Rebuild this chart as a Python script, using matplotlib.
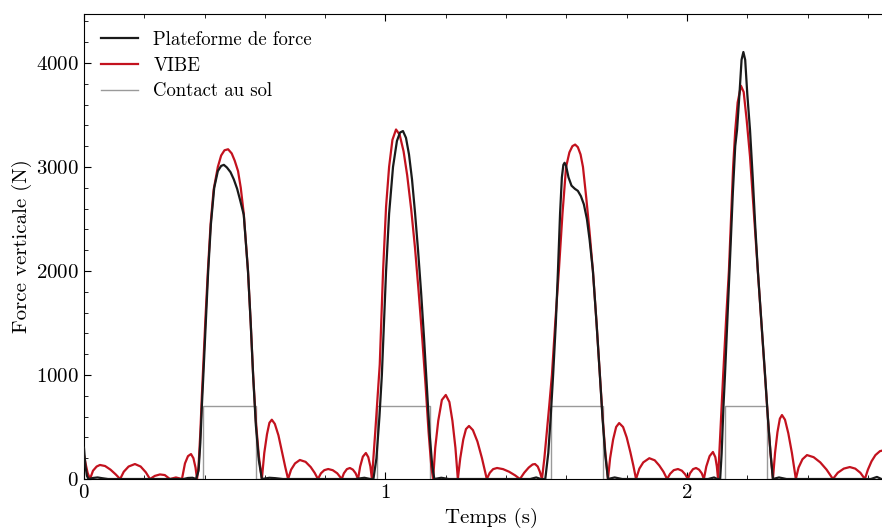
import numpy as np
import matplotlib
matplotlib.use("Agg")
import matplotlib.pyplot as plt
from matplotlib.ticker import MultipleLocator

plt.rcParams['font.family'] = 'serif'
plt.rcParams['font.serif'] = ['cmr10', 'DejaVu Serif']
plt.rcParams['mathtext.fontset'] = 'cm'
plt.rcParams['axes.formatter.use_mathtext'] = True

# VIBE estimate: time (s), vertical force (N)
t_vibe = [
    0.000, 0.006, 0.012, 0.020,
    0.030, 0.042, 0.053, 0.070, 0.088, 0.105, 0.120,
    0.132, 0.148, 0.169, 0.188, 0.205, 0.219,
    0.235, 0.252, 0.268, 0.285, 0.305, 0.325,
    0.335, 0.345, 0.355, 0.363, 0.370, 0.375,
    0.380, 0.386, 0.391, 0.395, 0.403, 0.411, 0.420, 0.430, 0.444, 0.455,
    0.466, 0.478, 0.490, 0.500, 0.511, 0.520, 0.530, 0.544, 0.553, 0.561,
    0.570, 0.580, 0.590,
    0.598, 0.607, 0.615, 0.623, 0.633, 0.645, 0.657, 0.668, 0.677,
    0.687, 0.700, 0.716, 0.735, 0.752, 0.765, 0.776,
    0.786, 0.797, 0.810, 0.825, 0.840, 0.855,
    0.862, 0.872, 0.882, 0.892, 0.901, 0.909,
    0.916, 0.925, 0.935, 0.943, 0.950, 0.955,
    0.960, 0.966, 0.973, 0.981, 0.986, 0.992, 1.002, 1.012, 1.023, 1.035,
    1.047, 1.060, 1.072, 1.085, 1.098, 1.110, 1.122, 1.133, 1.143, 1.152,
    1.158,
    1.165, 1.175, 1.187, 1.200, 1.212, 1.222, 1.232, 1.240,
    1.248, 1.258, 1.267, 1.277, 1.290, 1.305, 1.320, 1.336,
    1.346, 1.357, 1.370, 1.390, 1.410, 1.430, 1.446,
    1.460, 1.475, 1.488, 1.496, 1.505, 1.512, 1.519,
    1.527, 1.535, 1.543, 1.552, 1.563, 1.575, 1.587, 1.599, 1.610, 1.620,
    1.629, 1.638, 1.647, 1.655, 1.666, 1.677, 1.688, 1.700, 1.711, 1.720,
    1.729, 1.738,
    1.745, 1.755, 1.765, 1.775, 1.788, 1.800, 1.812, 1.822, 1.831,
    1.842, 1.855, 1.875, 1.893, 1.908, 1.922, 1.934,
    1.944, 1.956, 1.970, 1.983, 1.994, 2.003,
    2.010, 2.020, 2.030, 2.040, 2.049, 2.056,
    2.064, 2.075, 2.086, 2.094, 2.099, 2.103,
    2.108, 2.114, 2.120, 2.130, 2.139, 2.146, 2.153, 2.160, 2.168, 2.179,
    2.188, 2.198, 2.209, 2.222, 2.235, 2.247, 2.259, 2.268, 2.277, 2.285,
    2.292, 2.300, 2.308, 2.315, 2.325, 2.336, 2.348, 2.361,
    2.370, 2.383, 2.398, 2.420, 2.442, 2.463, 2.484,
    2.500, 2.520, 2.540, 2.558, 2.575, 2.590,
    2.600, 2.612, 2.625, 2.640, 2.650, 2.665, 2.680, 2.700]
f_vibe = [
    230, 140, 60, 0,
    80, 120, 135, 125, 90, 45, 0,
    70, 120, 144, 120, 65, 0,
    30, 44, 38, 0, 15, 0,
    150, 220, 240, 200, 110, 0,
    120, 450, 800, 1050, 1550, 2000, 2450, 2780, 3000, 3110,
    3160, 3170, 3130, 3060, 2960, 2800, 2550, 2000, 1500, 1000,
    560, 220, 0,
    250, 430, 540, 570, 530, 420, 260, 110, 0,
    90, 150, 183, 165, 115, 60, 0,
    55, 85, 96, 85, 55, 0,
    55, 95, 106, 90, 55, 0,
    120, 215, 250, 210, 120, 0,
    200, 450, 750, 1100, 1500, 2000, 2620, 3000, 3260, 3360,
    3310, 3150, 2920, 2600, 2220, 1800, 1350, 900, 450, 120,
    0,
    300, 560, 760, 808, 740, 560, 300, 0,
    200, 380, 480, 510, 470, 360, 200, 0,
    60, 95, 106, 95, 70, 35, 0,
    60, 110, 140, 144, 120, 70, 0,
    200, 450, 700, 1000, 1500, 2000, 2550, 3000, 3140, 3200,
    3215, 3190, 3120, 3000, 2700, 2370, 2000, 1500, 1000, 600,
    260, 0,
    200, 380, 500, 538, 500, 400, 260, 130, 0,
    100, 160, 200, 180, 130, 70, 0,
    50, 85, 96, 80, 45, 0,
    55, 95, 106, 90, 55, 0,
    120, 220, 260, 210, 120, 0,
    300, 650, 1000, 1550, 2000, 2500, 3000, 3350, 3620, 3780,
    3720, 3450, 3100, 2550, 2000, 1500, 1000, 600, 250, 0,
    250, 450, 580, 615, 570, 440, 250, 0,
    110, 190, 230, 210, 160, 90, 0,
    60, 100, 115, 100, 60, 0,
    90, 170, 230, 268, 275, 250, 180, 60]

# force plate reference: time (s), vertical force (N)
t_plate = [
    0.000, 0.005, 0.010, 0.015, 0.030, 0.045, 0.060, 0.080,
    0.330, 0.345, 0.360, 0.372,
    0.380, 0.386, 0.391, 0.396, 0.404, 0.412, 0.421, 0.432, 0.444, 0.455,
    0.464, 0.474, 0.486, 0.497, 0.508, 0.518, 0.530, 0.544, 0.553, 0.561,
    0.570, 0.580, 0.590, 0.615, 0.635, 0.660,
    0.900, 0.930, 0.950,
    0.960, 0.970, 0.980, 0.988, 1.002, 1.012, 1.025, 1.038, 1.048, 1.058,
    1.068, 1.078, 1.088, 1.098, 1.108, 1.118, 1.128, 1.137, 1.146, 1.155,
    1.162, 1.185, 1.210,
    1.480, 1.500, 1.515,
    1.530, 1.540, 1.548, 1.556, 1.565, 1.572, 1.579, 1.585, 1.590, 1.594,
    1.599, 1.607, 1.617, 1.628, 1.638, 1.648, 1.658, 1.668, 1.677, 1.688,
    1.700, 1.711, 1.720, 1.729, 1.738, 1.760, 1.785,
    2.070, 2.090, 2.100,
    2.110, 2.115, 2.121, 2.126, 2.135, 2.144, 2.152, 2.160, 2.166, 2.174,
    2.181, 2.187, 2.193, 2.200, 2.209, 2.218, 2.226, 2.235, 2.247, 2.259,
    2.268, 2.277, 2.285, 2.305, 2.330,
    2.610, 2.630, 2.645, 2.700]
f_plate = [
    300, 120, 30, 0, 10, 15, 8, 0,
    0, 10, 12, 0,
    80, 350, 700, 1000, 1500, 2000, 2450, 2800, 2960, 3010,
    3020, 2995, 2950, 2880, 2790, 2680, 2540, 2000, 1500, 1000,
    520, 180, 0, 12, 8, 0,
    0, 12, 0,
    0, 200, 600, 1000, 2000, 2550, 3000, 3250, 3330, 3345,
    3280, 3120, 2880, 2560, 2200, 1800, 1350, 900, 450, 130,
    0, 12, 0,
    0, 15, 0,
    0, 250, 600, 1000, 1500, 2000, 2550, 2900, 3020, 3040,
    3010, 2900, 2820, 2790, 2770, 2720, 2640, 2500, 2300, 2000,
    1500, 1000, 580, 230, 0, 15, 0,
    0, 15, 0,
    0, 250, 700, 1000, 1600, 2200, 2750, 3200, 3356, 3700,
    4030, 4105, 4030, 3700, 3356, 2900, 2450, 2000, 1500, 1000,
    600, 250, 0, 15, 0,
    0, 20, 0, 0]

# ground contact phases (s) and the level they are drawn at (N)
contact_start = [0.395, 0.972, 1.549, 2.126]
contact_end = [0.570, 1.148, 1.721, 2.265]
contact_level = 700

t_contact = [0.0]
f_contact = [0]
for a, b in zip(contact_start, contact_end):
    t_contact += [a, a, b, b]
    f_contact += [0, contact_level, contact_level, 0]
t_contact.append(2.7)
f_contact.append(0)

fig = plt.figure(figsize=(8.82, 5.31), dpi=100)
ax = fig.add_axes([0.0952, 0.0979, 0.923, 0.8757])

ax.plot(t_plate, f_plate, color='#1a1a1a', lw=1.6, label='Plateforme de force', zorder=3)
ax.plot(t_vibe, f_vibe, color='#c3121e', lw=1.6, label='VIBE', zorder=2)
ax.plot(t_contact, f_contact, color='#9a9a9a', lw=1.0, label='Contact au sol', zorder=1)

ax.set_xlim(0, 2.7)
ax.set_ylim(0, 4470)
ax.xaxis.set_major_locator(MultipleLocator(1))
ax.xaxis.set_minor_locator(MultipleLocator(0.2))
ax.yaxis.set_major_locator(MultipleLocator(1000))
ax.yaxis.set_minor_locator(MultipleLocator(200))
ax.tick_params(which='both', direction='in', top=True, right=True, labelsize=15)
ax.tick_params(which='major', length=5)
ax.tick_params(which='minor', length=3)

ax.set_xlabel("Temps (s)", fontsize=15, labelpad=4)
ax.set_ylabel("Force verticale (N)", fontsize=15, labelpad=3)
ax.legend(loc='upper left', frameon=False, fontsize=13.5, handlelength=2.0,
          handletextpad=0.8, labelspacing=0.42, borderaxespad=0.5)

fig.savefig("out.png", dpi=100)
